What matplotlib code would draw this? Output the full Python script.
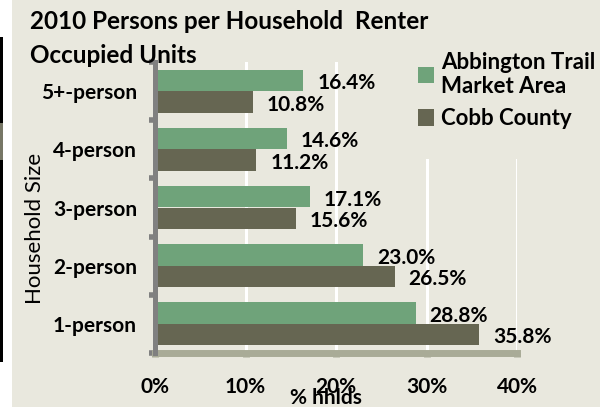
import matplotlib.pyplot as plt
from matplotlib.patches import Rectangle, Patch

# data (1-person at the bottom)
sizes = ["1-person", "2-person", "3-person", "4-person", "5+-person"]
abbington = [28.8, 23.0, 17.1, 14.6, 16.4]
cobb = [35.8, 26.5, 15.6, 11.2, 10.8]
xticks = [0, 10, 20, 30, 40]

green = "#6fa37a"
dark = "#666652"
bg = "#e9e8de"
fs = 15

plt.rcParams["font.family"] = ["Lato", "DejaVu Sans"]

W, H = 600, 411
fig = plt.figure(figsize=(6, 4.11), dpi=100, facecolor="white")

# chart background and the bit of the neighbouring picture on the left
fig.patches.append(Rectangle((12 / W, 4 / H), 1 - 12 / W, 1 - 4 / H, transform=fig.transFigure,
                             facecolor=bg, edgecolor="none", zorder=-2))
fig.patches.append(Rectangle((0, 1 - 362 / H), 3 / W, 325 / H, transform=fig.transFigure,
                             facecolor="black", edgecolor="none", zorder=-2))
fig.patches.append(Rectangle((0, 1 - 160 / H), 3 / W, 37 / H, transform=fig.transFigure,
                             facecolor="#777766", edgecolor="none", zorder=-1))

ax = fig.add_axes([155 / W, 1 - 353 / H, 362 / W, 291 / H])
ax.set_facecolor("none")

pos = list(range(len(sizes)))
h = 0.37
ax.barh([p + h / 2 for p in pos], abbington, height=h, color=green, zorder=2)
ax.barh([p - h / 2 for p in pos], cobb, height=h, color=dark, zorder=2)

for p, v in zip(pos, abbington):
    ax.annotate(f"{v:.1f}%", (v, p + h / 2), xytext=(10, -2), textcoords="offset points",
                va="center", ha="left", fontsize=fs, fontweight="bold", annotation_clip=False)
for p, v in zip(pos, cobb):
    ax.annotate(f"{v:.1f}%", (v, p - h / 2), xytext=(10, -2), textcoords="offset points",
                va="center", ha="left", fontsize=fs, fontweight="bold", annotation_clip=False)

ax.set_xlim(0, 40)
ax.set_ylim(-0.5, len(sizes) - 0.5)
ax.set_xticks(xticks)
ax.set_xticklabels([f"{t}%" for t in xticks], fontsize=fs, fontweight="bold")
ax.set_yticks(pos)
ax.set_yticklabels(sizes, fontsize=fs, fontweight="bold")
ax.set_yticks([p - 0.5 for p in pos] + [len(sizes) - 0.5], minor=True)

ax.grid(axis="x", color="white", linewidth=2.2, zorder=1)
ax.set_axisbelow(True)

for s in ["top", "right"]:
    ax.spines[s].set_visible(False)
ax.spines["left"].set_color("#808080")
ax.spines["left"].set_linewidth(3.6)
ax.spines["left"].set_zorder(4)
ax.spines["bottom"].set_color("#a9ab97")
ax.spines["bottom"].set_linewidth(5)

ax.tick_params(axis="y", which="major", length=0, pad=13)
ax.tick_params(axis="y", which="minor", length=4, width=4, color="#808080", direction="out")
ax.tick_params(axis="x", length=3, width=5, color="#a9ab97", pad=14)

fig.text(35 / W, 1 - 228 / H, "Household Size", rotation=90, ha="center", va="center", fontsize=16)
fig.text(326 / W, 1 - 398 / H, "% hhlds", ha="center", va="center", fontsize=fs, fontweight="bold")

fig.text(30 / W, 1 - 10 / H, "2010 Persons per Household  Renter\nOccupied Units", ha="left", va="top",
         fontsize=17.5, fontweight="bold", linespacing=1.6)

# legend box hides the upper part of the right gridlines
fig.patches.append(Rectangle((405 / W, 1 - 159 / H), 195 / W, 119 / H, transform=fig.transFigure,
                             facecolor=bg, edgecolor="none", zorder=1))

handles = [Patch(facecolor=green), Patch(facecolor=dark)]
leg = fig.legend(handles, ["Abbington Trail\nMarket Area", "Cobb County"], loc="upper left",
                 bbox_to_anchor=(400 / W, 1 - 34 / H), frameon=False,
                 handlelength=0.75, handleheight=0.75, handletextpad=0.3,
                 labelspacing=0.5, borderpad=0.3, prop={"size": 16, "weight": "bold"})
leg.set_zorder(5)

fig.savefig("out.png", dpi=100, facecolor=fig.get_facecolor())
